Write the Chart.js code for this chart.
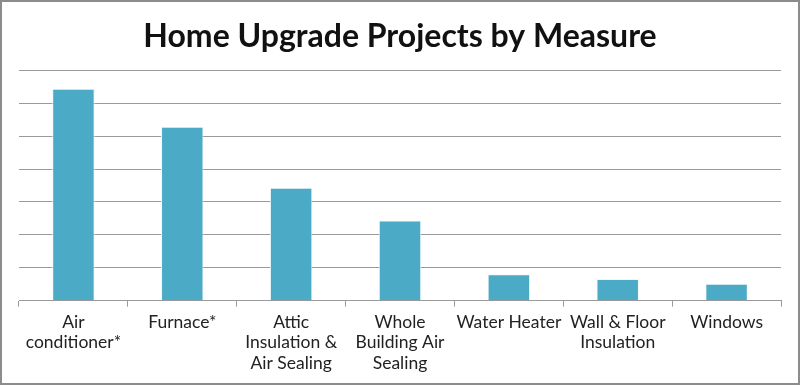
<!DOCTYPE html>
<html lang="en">
<head>
    <meta charset="UTF-8">
    <title>Home Upgrade Projects by Measure</title>
    <style>
        body {
            margin: 0;
            padding: 0;
            background-color: #fff;
        }
        .chart-box {
            width: 800px;
            height: 385px;
            box-sizing: border-box;
            border: 2px solid #8c8c8c;
            position: relative;
        }
    </style>
</head>
<body>
    <div class="chart-box">
        <canvas id="measureChart"></canvas>
    </div>

    <script src="https://cdn.jsdelivr.net/npm/chart.js"></script>
    <script>
        // Categories (multi-line tick labels)
        const measures = [
            ['Air', 'conditioner*'],
            ['Furnace*'],
            ['Attic', 'Insulation &', 'Air Sealing'],
            ['Whole', 'Building Air', 'Sealing'],
            ['Water Heater'],
            ['Wall & Floor', 'Insulation'],
            ['Windows']
        ];
        // Values, in grid units (no y labels shown)
        const projects = [6.44, 5.29, 3.43, 2.44, 0.80, 0.66, 0.51];
        const yMax = 7;

        const ctx = document.getElementById('measureChart').getContext('2d');
        new Chart(ctx, {
            type: 'bar',
            data: {
                labels: measures,
                datasets: [{
                    label: 'Projects',
                    data: projects,
                    backgroundColor: '#4BAAC6',
                    borderColor: '#eef6f9',
                    borderWidth: 1,
                    categoryPercentage: 1,
                    barPercentage: 0.39
                }]
            },
            options: {
                responsive: true,
                maintainAspectRatio: false,
                animation: false,
                layout: {
                    padding: { left: 17, right: 17, top: 0, bottom: 4 }
                },
                plugins: {
                    legend: { display: false },
                    tooltip: { enabled: false },
                    title: {
                        display: true,
                        text: 'Home Upgrade Projects by Measure',
                        color: '#111',
                        font: { family: 'Lato', size: 32, weight: 'bold' },
                        padding: { top: 15, bottom: 15 }
                    }
                },
                scales: {
                    x: {
                        grid: {
                            display: true,
                            drawOnChartArea: false,
                            offset: true,
                            tickLength: 6,
                            color: '#9a9a9a'
                        },
                        border: { display: true, color: '#9a9a9a', width: 1 },
                        ticks: {
                            color: '#222',
                            font: { family: 'Lato', size: 17.5, lineHeight: 1.15 },
                            padding: 6,
                            maxRotation: 0,
                            autoSkip: false
                        }
                    },
                    y: {
                        min: 0,
                        max: yMax,
                        ticks: { display: false, stepSize: 1 },
                        grid: { color: '#9a9a9a', drawTicks: false },
                        border: { display: false }
                    }
                }
            }
        });
    </script>
</body>
</html>
